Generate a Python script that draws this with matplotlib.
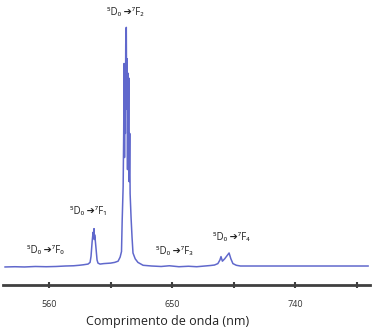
import matplotlib
matplotlib.use("Agg")
import matplotlib.pyplot as plt

# wavelength (nm) and relative intensity
wavelength = [527.8, 535, 542, 550, 558, 565, 572, 578, 582, 585, 588.5, 590.0, 590.7,
              591.5, 592.2, 592.5, 592.9, 593.1, 593.3, 593.6, 594.4, 595.1, 595.8, 597.3,
              600, 605, 608, 610.5, 612, 613, 613.5, 614.2, 614.6, 614.9, 615.2, 615.5,
              615.8, 616.1, 616.5, 616.8, 617.1, 617.4, 617.7, 618.0, 618.3, 618.6,
              619.0, 619.3, 620.0, 620.7, 621.4, 623, 625, 628.8,
              635, 642, 648, 655, 662, 668, 674, 678, 681, 683.5, 685.0, 685.8, 686.8,
              688.5, 690.5, 691.7, 693.0, 694.5, 697, 700, 710, 730, 750, 770, 793.4]
intensity = [-0.004, -0.003, -0.004, -0.002, -0.003, -0.002, 0.0, 0.001, 0.003, 0.005,
             0.008, 0.015, 0.04, 0.10, 0.14, 0.12, 0.155, 0.11, 0.13, 0.12, 0.07, 0.025,
             0.012, 0.008, 0.010, 0.012, 0.015, 0.020, 0.037, 0.06, 0.19, 0.33, 0.55,
             0.84, 0.45, 0.80, 0.55, 0.92, 0.99, 0.65, 0.86, 0.40, 0.80, 0.50, 0.78,
             0.35, 0.55, 0.30, 0.20, 0.12, 0.054, 0.030, 0.015, 0.003,
             0.000, -0.002, 0.001, -0.003, -0.001, -0.003, 0.000, 0.002, 0.004, 0.010,
             0.025, 0.039, 0.020, 0.030, 0.045, 0.054, 0.030, 0.010, 0.003, 0.000,
             0.000, 0.000, 0.000, 0.000, 0.000]

transitions = ['⁵D₀ ➔⁷F₀', '⁵D₀ ➔⁷F₁', '⁵D₀ ➔⁷F₂', '⁵D₀ ➔⁷F₃', '⁵D₀ ➔⁷F₄']
label_x = [557, 588.5, 615.6, 651.4, 693]
label_y = [0.066, 0.228, 1.05, 0.062, 0.12]

tick_pos = [560, 605, 650, 695, 740, 785]
tick_labels = ['560', '', '650', '', '740', '']

W, H = 374, 335
fig = plt.figure(figsize=(W / 100, H / 100), dpi=100)
ax = fig.add_axes([3 / W, 50 / H, 367 / W, 275 / H])
ax.plot(wavelength, intensity, color='#6068cc', lw=1.1)
ax.set_xlim(526.3, 794.8)
ax.set_ylim(-0.0788, 1.062)

for t, x, y in zip(transitions, label_x, label_y):
    ax.text(x, y, t, ha='center', va='center', fontsize=7, color='#222222',
            family=['Open Sans', 'DejaVu Sans'])

for s in ['top', 'right', 'left']:
    ax.spines[s].set_visible(False)
ax.spines['bottom'].set_color('#404040')
ax.spines['bottom'].set_linewidth(2)
ax.set_yticks([])
ax.set_xticks(tick_pos)
ax.set_xticklabels(tick_labels, fontsize=6.5, family='Open Sans', color='#333333')
ax.tick_params(axis='x', direction='inout', length=5, width=1.5, color='#404040', pad=8)
ax.set_xlabel('Comprimento de onda (nm)', fontsize=9, family='Open Sans',
              color='#222222')
ax.xaxis.set_label_coords((168 - 3) / 367, -0.11)

fig.savefig('out.png', dpi=100)
